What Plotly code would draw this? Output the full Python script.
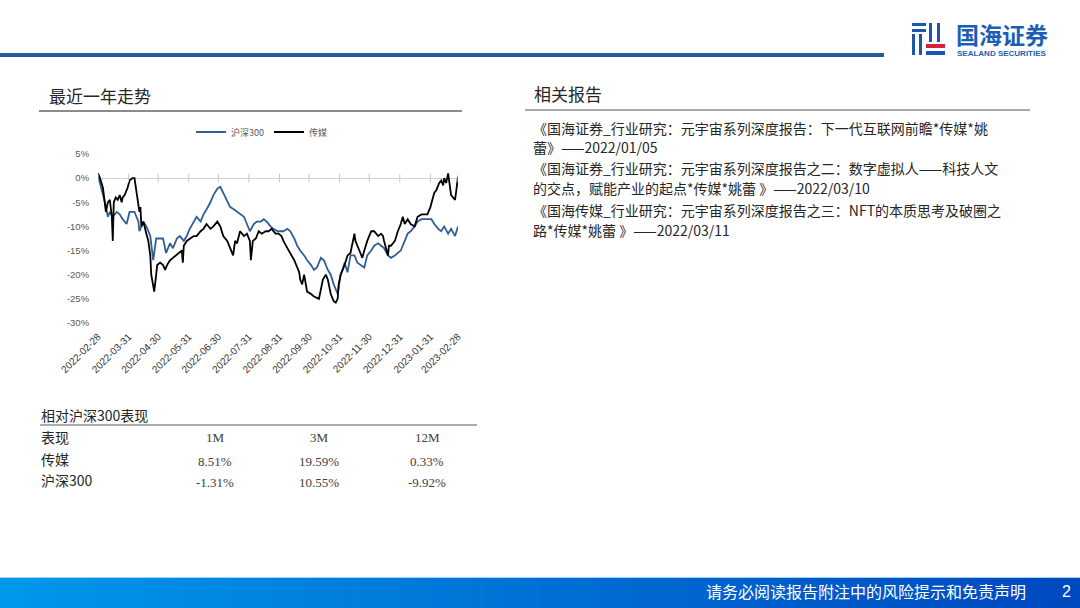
import plotly.graph_objects as go

# ==========================
# DATA
# ==========================

hs300_dates = [
    "2022-02-28", "2022-03-07", "2022-03-10", "2022-03-12", "2022-03-15", "2022-03-19",
    "2022-03-22", "2022-03-25", "2022-03-29", "2022-04-01", "2022-04-06", "2022-04-10",
    "2022-04-11", "2022-04-15", "2022-04-18", "2022-04-22", "2022-04-25", "2022-04-27",
    "2022-04-28", "2022-05-05", "2022-05-08", "2022-05-12", "2022-05-15", "2022-05-19",
    "2022-05-22", "2022-05-26", "2022-05-29", "2022-06-01", "2022-06-05", "2022-06-08",
    "2022-06-12", "2022-06-15", "2022-06-18", "2022-06-22", "2022-06-25", "2022-06-29",
    "2022-07-02", "2022-07-05", "2022-07-09", "2022-07-12", "2022-07-16", "2022-07-19",
    "2022-07-22", "2022-07-26", "2022-07-29", "2022-08-01", "2022-08-05", "2022-08-08",
    "2022-08-12", "2022-08-15", "2022-08-18", "2022-08-22", "2022-08-25", "2022-08-29",
    "2022-09-01", "2022-09-04", "2022-09-08", "2022-09-11", "2022-09-15", "2022-09-18",
    "2022-09-21", "2022-09-25", "2022-09-28", "2022-10-02", "2022-10-05", "2022-10-08",
    "2022-10-12", "2022-10-15", "2022-10-19", "2022-10-22", "2022-10-25", "2022-10-27",
    "2022-10-29", "2022-11-01", "2022-11-03", "2022-11-05", "2022-11-08", "2022-11-11",
    "2022-11-15", "2022-11-18", "2022-11-22", "2022-11-25", "2022-11-28", "2022-12-02",
    "2022-12-05", "2022-12-09", "2022-12-12", "2022-12-15", "2022-12-19", "2022-12-22",
    "2022-12-26", "2022-12-29", "2023-01-01", "2023-01-05", "2023-01-08", "2023-01-11",
    "2023-01-15", "2023-01-18", "2023-01-22", "2023-01-28", "2023-02-01", "2023-02-04",
    "2023-02-08", "2023-02-11", "2023-02-14", "2023-02-18", "2023-02-21", "2023-02-25",
    "2023-02-28",
]
hs300_vals = [
    0.5, -5, -8, -7, -8, -7,
    -7.5, -8.5, -9.5, -7, -7, -9,
    -11, -9, -10, -12, -17, -14,
    -12.5, -12.5, -15.5, -13.5, -14.5, -12.5,
    -12, -13, -12, -10.5, -9, -8,
    -9, -7.5, -6.5, -5, -3.5, -2.2,
    -1.8, -3, -4.5, -6, -6.5, -7,
    -7.5, -8, -9.5, -11, -9.5, -9,
    -9, -8.5, -9, -10, -10.5, -11,
    -11, -11, -10.5, -11, -12.5, -14,
    -15, -16, -17, -18, -19, -18.5,
    -16.5, -17, -19, -20, -22, -23,
    -24, -20, -19, -17.5, -19.5, -16,
    -16, -17.5, -18, -18.5, -16, -15,
    -14, -13.5, -14, -14.5, -16, -16.5,
    -16, -15.5, -15, -13, -11.5, -11,
    -10, -9, -8.5, -8.5, -8.5, -9.5,
    -10.5, -11, -10, -11.5, -10.5, -12,
    -10,
]

media_dates = [
    "2022-02-28", "2022-03-02", "2022-03-05", "2022-03-07", "2022-03-08", "2022-03-10",
    "2022-03-12", "2022-03-14", "2022-03-15", "2022-03-16", "2022-03-18", "2022-03-20",
    "2022-03-22", "2022-03-24", "2022-03-25", "2022-03-27", "2022-03-30", "2022-04-01",
    "2022-04-04", "2022-04-06", "2022-04-08", "2022-04-10", "2022-04-11", "2022-04-12",
    "2022-04-13", "2022-04-15", "2022-04-17", "2022-04-18", "2022-04-20", "2022-04-22",
    "2022-04-23", "2022-04-25", "2022-04-26", "2022-04-28", "2022-04-29", "2022-05-02",
    "2022-05-05", "2022-05-07", "2022-05-09", "2022-05-12", "2022-05-15", "2022-05-19",
    "2022-05-22", "2022-05-24", "2022-05-25", "2022-05-26", "2022-05-29", "2022-06-01",
    "2022-06-05", "2022-06-08", "2022-06-12", "2022-06-15", "2022-06-18", "2022-06-22",
    "2022-06-25", "2022-06-29", "2022-07-02", "2022-07-05", "2022-07-09", "2022-07-12",
    "2022-07-15", "2022-07-17", "2022-07-19", "2022-07-22", "2022-07-26", "2022-07-29",
    "2022-08-01", "2022-08-02", "2022-08-04", "2022-08-07", "2022-08-10", "2022-08-13",
    "2022-08-17", "2022-08-20", "2022-08-23", "2022-08-27", "2022-08-30", "2022-09-02",
    "2022-09-04", "2022-09-08", "2022-09-11", "2022-09-15", "2022-09-18", "2022-09-20",
    "2022-09-21", "2022-09-23", "2022-09-25", "2022-09-27", "2022-09-28", "2022-10-02",
    "2022-10-05", "2022-10-10", "2022-10-12", "2022-10-14", "2022-10-17", "2022-10-19",
    "2022-10-20", "2022-10-22", "2022-10-24", "2022-10-25", "2022-10-27", "2022-10-29",
    "2022-10-30", "2022-11-01", "2022-11-03", "2022-11-05", "2022-11-08", "2022-11-11",
    "2022-11-15", "2022-11-16", "2022-11-18", "2022-11-22", "2022-11-23", "2022-11-25",
    "2022-11-28", "2022-12-02", "2022-12-05", "2022-12-09", "2022-12-12", "2022-12-14",
    "2022-12-15", "2022-12-19", "2022-12-20", "2022-12-22", "2022-12-26", "2022-12-29",
    "2023-01-01", "2023-01-03", "2023-01-05", "2023-01-08", "2023-01-11", "2023-01-15",
    "2023-01-18", "2023-01-22", "2023-01-28", "2023-01-31", "2023-02-03", "2023-02-04",
    "2023-02-06", "2023-02-08", "2023-02-09", "2023-02-11", "2023-02-13", "2023-02-14",
    "2023-02-16", "2023-02-18", "2023-02-20", "2023-02-21", "2023-02-23", "2023-02-25",
    "2023-02-26", "2023-02-28",
]
media_vals = [
    1, 0, -2, -5, -7, -5,
    -4.5, -8, -13, -5, -4, -4.5,
    -3.5, -5, -4, -3.5, -2, -0.5,
    0, 0, -3, -5, -7, -6,
    -10, -9, -11, -11.5, -13, -16,
    -20, -22, -23.5, -20, -18, -17.5,
    -18, -19, -18, -17, -16.5, -16,
    -15.5, -15, -17.5, -14, -13, -12.5,
    -12, -12, -11, -10.5, -9.5, -10.5,
    -10, -9, -10, -12, -13, -14.5,
    -16, -13, -13.5, -11, -12, -11.5,
    -13, -17, -13, -12.5, -11, -11.5,
    -11, -11, -10.5, -11.5, -11.5, -12,
    -13, -14.5, -15.5, -17, -18.5, -19.5,
    -21, -22, -20, -23, -23.5, -24,
    -24.5, -25, -23, -21, -20, -21,
    -22, -24, -25, -25.5, -25.8, -25,
    -22, -20, -19, -18, -16, -15.5,
    -11.5, -13, -14, -16, -16.5, -15,
    -13, -11, -11, -12, -11.5, -12,
    -13, -16, -14, -14, -13, -11,
    -9.5, -8, -9.5, -8.5, -9.5, -10,
    -8, -7.5, -7.5, -6, -4, -3,
    -2.5, -1.5, -1, -0.5, -1.5, 0,
    -1, 1, -2, -3.5, -4, -4.5,
    -3, 0.3,
]

tick_dates = [
    "2022-02-28", "2022-03-31", "2022-04-30", "2022-05-31", "2022-06-30", "2022-07-31",
    "2022-08-31", "2022-09-30", "2022-10-31", "2022-11-30", "2022-12-31", "2023-01-31",
    "2023-02-28",
]
y_ticks = [5, 0, -5, -10, -15, -20, -25, -30]
y_labels = ["5%", "0%", "-5%", "-10%", "-15%", "-20%", "-25%", "-30%"]

table_cols = ["1M", "3M", "12M"]
table_rows = ["传媒", "沪深300"]
table_vals = [
    ["8.51%", "19.59%", "0.33%"],
    ["-1.31%", "10.55%", "-9.92%"],
]

reports = [
    "《国海证券_行业研究：元宇宙系列深度报告：下一代互联网前瞻*传媒*姚",
    "蕾》——2022/01/05",
    "《国海证券_行业研究：元宇宙系列深度报告之二：数字虚拟人——科技人文",
    "的交点，赋能产业的起点*传媒*姚蕾 》——2022/03/10",
    "《国海传媒_行业研究：元宇宙系列深度报告之三：NFT的本质思考及破圈之",
    "路*传媒*姚蕾 》——2022/03/11",
]

# ==========================
# HELPERS (pixel -> paper)
# ==========================

W, H = 1080, 608
CJK = "Noto Sans CJK SC"


def px(x):
    return x / W


def py(y):
    return 1 - y / H


def text(x, y, s, size=13, color="#262626", anchor="left", font=CJK, bold=False):
    if bold:
        s = "<b>" + s + "</b>"
    fig.add_annotation(
        x=px(x), y=py(y), xref="paper", yref="paper", text=s, showarrow=False,
        xanchor=anchor, yanchor="middle", borderpad=0,
        font=dict(family=font, size=size, color=color),
    )


def hline(x0, x1, y, color, width):
    fig.add_shape(type="line", xref="paper", yref="paper",
                  x0=px(x0), x1=px(x1), y0=py(y), y1=py(y),
                  line=dict(color=color, width=width))


def rect(x0, y0, x1, y1, color):
    fig.add_shape(type="rect", xref="paper", yref="paper",
                  x0=px(x0), x1=px(x1), y0=py(y0), y1=py(y1),
                  fillcolor=color, line=dict(width=0), layer="below")


# ==========================
# CHART
# ==========================

fig = go.Figure()

fig.add_trace(go.Scatter(
    x=hs300_dates, y=hs300_vals, name="沪深300", mode="lines",
    line=dict(color="#2F5E96", width=1.8), hoverinfo="skip",
))
fig.add_trace(go.Scatter(
    x=media_dates, y=media_vals, name="传媒", mode="lines",
    line=dict(color="#000000", width=1.8), hoverinfo="skip",
))
# small tick marks on the 0% axis line
fig.add_trace(go.Scatter(
    x=tick_dates, y=[0] * len(tick_dates), mode="markers", showlegend=False,
    marker=dict(symbol="line-ns", size=6, line=dict(color="#c8c8c8", width=1)),
    hoverinfo="skip",
))

fig.update_layout(
    template="none",
    width=W, height=H,
    margin=dict(l=0, r=0, t=0, b=0, pad=0, autoexpand=False),
    paper_bgcolor="white", plot_bgcolor="white",
    showlegend=True,
    legend=dict(
        orientation="h", x=px(262), y=py(132), xanchor="center", yanchor="middle",
        font=dict(family=CJK, size=9, color="#595959"),
        bgcolor="rgba(0,0,0,0)", borderwidth=0, itemwidth=30, tracegroupgap=0,
    ),
    xaxis=dict(
        domain=[px(98), px(458)], range=["2022-02-28", "2023-02-28"],
        tickmode="array", tickvals=tick_dates, ticktext=tick_dates, tickangle=-45,
        tickfont=dict(family="Liberation Sans", size=10, color="#333333"),
        showgrid=False, showline=False, zeroline=False, automargin=False,
        ticks="outside", ticklen=3, tickcolor="rgba(0,0,0,0)",
    ),
    yaxis=dict(
        domain=[py(323), py(154)], range=[-30, 5],
        tickmode="array", tickvals=y_ticks, ticktext=y_labels,
        tickfont=dict(family="Liberation Sans", size=9.5, color="#595959"),
        showgrid=False, showline=False, automargin=False,
        ticks="outside", ticklen=6, tickcolor="rgba(0,0,0,0)",
        zeroline=True, zerolinecolor="#d0d0d0", zerolinewidth=1,
    ),
)

# ==========================
# SLIDE DECORATION
# ==========================

# header rule
hline(0, 884, 55, "#1F5CA2", 4)

# logo icon
blue = "#1B57B0"
rect(912, 23, 926, 26, blue)
rect(912, 29, 926, 32, blue)
rect(912, 34, 915, 55, blue)
rect(919, 34, 922, 55, blue)
rect(929, 23, 932, 42, blue)
rect(937, 23, 940, 42, blue)
rect(926, 44, 945, 48, "#D9203A")
rect(926, 51, 945, 55, blue)
text(955, 34, "国海证券", size=23, color="#1B5FB4", bold=True)
text(956, 53, "SEALAND SECURITIES", size=8, color="#1B5FB4", font="Liberation Sans", bold=True)

# section titles
text(48, 95, "最近一年走势", size=17)
hline(39, 462, 111, "#8c8c8c", 2)
text(533, 94, "相关报告", size=17)
hline(525, 1030, 110, "#8c8c8c", 1.5)

# report list
report_y = [128, 147, 168, 188, 210, 230]
for s, y in zip(reports, report_y):
    text(532, y, s, size=14, color="#262626")

# relative-performance table
text(40, 415, "相对沪深300表现", size=14, color="#262626")
hline(40, 477, 425, "#595959", 1)
col_x = [215, 319, 427]
text(40, 437, "表现", size=14)
for c, x in zip(table_cols, col_x):
    text(x, 437, c, size=13, color="#404040", anchor="center", font="Liberation Serif")
row_y = [459, 480]
for r, vals, y in zip(table_rows, table_vals, row_y):
    text(40, y, r, size=14)
    for v, x in zip(vals, col_x):
        text(x, y + 2, v, size=13, color="#404040", anchor="center", font="Liberation Serif")

# footer band with a left-to-right gradient
n = 60
c0, c1 = (0, 152, 235), (0, 72, 192)
for i in range(n):
    t = i / (n - 1)
    col = "rgb(%d,%d,%d)" % tuple(round(a + (b - a) * t) for a, b in zip(c0, c1))
    rect(W * i / n, 578, W * (i + 1) / n + 0.5, 608, col)
hline(0, W, 577.5, "#9fd6f2", 1)
text(1027, 591, "请务必阅读报告附注中的风险提示和免责声明", size=16, color="white", anchor="right")
text(1066, 591, "2", size=16, color="white", anchor="center", font="Liberation Sans")

# drop the default page margin so the figure sits at the window's top-left
fig.write_html(
    "out.html",
    config={"displayModeBar": False},
    post_script="document.body.style.margin='0px';",
)
